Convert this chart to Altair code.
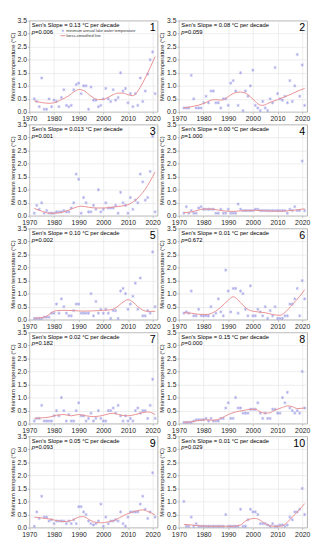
import altair as alt
import pandas as pd

YEARS = list(range(1972, 2022))

P1 = [0.5, 0.4, 0.2, 1.3, 0.1, 0.1, 0.5, 0.2, 0.45, 0.4, 0.2, 0.55, 0.85, 0.25, 0.2, 0.25, 0.85, 1.05, 1.1, 0.7,
      1.0, 1.0, 0.1, 0.95, 0.45, 0.45, 0.2, 0.25, 0.5, 0.9, 0.5, 0.4, 0.85, 0.45, 0.55, 1.5, 0.8, 0.9, 0.35, 0.7,
      0.2, 0.7, 0.25, 1.3, 0.4, 0.8, 1.45, 2.0, 2.3, 0.7]
P2 = [0.15, 0.15, 0.15, 1.4, 0.5, 0.15, 0.15, 0.15, 0.35, 0.6, 0.35, 0.8, 0.8, 0.35, 0.35, 0.15, 0.5, 0.5, 0.25, 1.1,
      1.2, 0.8, 0.25, 1.5, 0.05, 0.8, 0.6, 1.0, 1.6, 0.25, 0.15, 0.05, 0.4, 0.15, 0.05, 0.5, 0.35, 1.7, 0.7, 0.5,
      0.45, 0.6, 0.35, 1.2, 0.4, 1.0, 2.2, 0.6, 1.8, 0.25]
P3 = [0.1, 0.4, 0.25, 0.5, 0.1, 0.2, 0.1, 0.1, 0.1, 0.15, 0.15, 0.15, 0.2, 0.15, 0.15, 0.3, 0.5, 1.6, 1.4, 0.1,
      0.7, 0.5, 0.15, 0.15, 0.4, 0.25, 1.0, 0.15, 0.25, 0.5, 0.3, 0.3, 0.3, 0.4, 0.1, 0.9, 0.5, 0.4, 0.1, 0.7,
      0.25, 0.6, 0.5, 1.6, 1.3, 0.6, 0.7, 1.7, 3.05, 0.15]
P4 = [0.1, 0.35, 0.1, 0.2, 0.1, 0.1, 0.3, 0.35, 0.25, 0.25, 0.25, 0.25, 0.25, 0.1, 0.1, 0.25, 0.1, 0.1, 0.25, 0.1,
      0.1, 0.1, 0.45, 0.25, 0.2, 0.2, 0.2, 0.2, 0.2, 0.25, 0.25, 0.2, 0.2, 0.2, 0.2, 0.2, 0.2, 0.2, 0.2, 0.2,
      0.2, 0.2, 0.1, 0.25, 0.2, 0.35, 0.2, 0.2, 2.1, 0.2]
P5 = [0.05, 0.05, 0.05, 0.05, 0.1, 0.1, 0.1, 0.25, 0.25, 0.6, 0.25, 0.8, 0.5, 0.25, 0.15, 0.15, 0.35, 0.6, 0.6, 0.25,
      0.25, 0.25, 0.25, 1.0, 0.15, 0.7, 0.25, 0.4, 0.25, 0.4, 0.25, 0.05, 0.35, 0.35, 0.05, 1.1, 1.2, 1.0, 0.4, 0.6,
      0.9, 1.4, 0.4, 1.6, 0.15, 0.15, 0.35, 0.25, 2.6, 0.5]
P6 = [0.25, 0.3, 0.25, 1.1, 0.15, 0.15, 0.4, 0.15, 0.15, 0.15, 0.15, 0.5, 0.15, 0.25, 0.8, 0.3, 0.15, 1.9, 1.1, 0.3,
      1.2, 1.2, 0.25, 1.1, 1.0, 0.4, 0.15, 1.3, 0.15, 0.15, 0.4, 0.3, 0.15, 0.5, 0.05, 0.35, 0.15, 0.5, 0.05, 0.05,
      0.05, 0.15, 0.15, 0.6, 0.6, 0.8, 1.2, 0.15, 1.5, 0.8]
P7 = [0.1, 0.2, 0.2, 0.7, 0.1, 0.1, 0.1, 0.1, 0.3, 0.5, 0.3, 1.0, 0.5, 0.1, 0.35, 0.1, 0.1, 0.5, 0.8, 0.3,
      0.3, 0.1, 0.2, 0.4, 0.1, 0.2, 0.5, 0.2, 0.1, 0.1, 0.5, 0.5, 0.6, 0.4, 0.7, 0.3, 0.1, 0.3, 0.1, 0.2,
      0.1, 0.5, 0.6, 0.4, 0.5, 0.5, 0.2, 0.7, 1.7, 0.2]
P8 = [0.05, 0.05, 0.05, 0.05, 0.1, 0.15, 0.15, 0.15, 0.15, 0.2, 0.1, 0.2, 0.1, 0.1, 0.1, 0.2, 0.2, 0.6, 0.8, 0.2,
      0.2, 1.0, 0.6, 0.6, 0.4, 0.4, 0.4, 0.55, 0.55, 0.55, 0.8, 0.4, 0.2, 0.4, 0.2, 0.2, 0.55, 0.55, 0.4, 0.4,
      1.0, 0.8, 1.2, 0.6, 0.5, 0.4, 0.5, 0.4, 2.0, 0.6]
P9 = [0.05, 0.6, 0.35, 1.2, 0.4, 0.4, 0.25, 0.3, 0.15, 0.25, 0.25, 0.25, 0.25, 0.15, 0.25, 0.15, 0.3, 0.15, 0.8, 0.8,
      0.6, 0.5, 0.25, 0.15, 0.1, 0.15, 0.25, 0.9, 0.05, 0.4, 0.15, 0.25, 0.25, 0.3, 0.25, 0.6, 0.15, 0.05, 0.4, 0.6,
      0.6, 0.6, 0.6, 0.9, 1.2, 0.7, 0.35, 0.6, 2.1, 0.4]
P10 = [1.0, 0.05, 0.05, 0.4, 0.05, 0.15, 0.05, 0.05, 0.05, 0.05, 0.05, 0.05, 0.05, 0.05, 0.05, 0.05, 0.05, 0.5, 0.05, 0.05,
       0.05, 0.05, 0.05, 0.7, 0.05, 0.05, 0.3, 0.7, 0.6, 0.6, 0.5, 0.15, 0.15, 0.15, 0.1, 0.05, 0.15, 0.05, 0.05, 0.1,
       0.1, 0.05, 0.1, 0.4, 0.3, 0.6, 0.6, 0.7, 1.5, 0.5]
PANEL_VALUES = [P1, P2, P3, P4, P5, P6, P7, P8, P9, P10]

# loess-smoothed lines (knots)
LINE_YEARS = [
    [1972, 1975, 1978, 1980, 1983, 1986, 1988, 1990, 1992, 1994, 1996, 1998, 2000, 2002, 2004, 2006, 2008, 2010, 2012, 2013, 2015, 2017, 2019, 2021],
    [1972, 1975, 1978, 1981, 1983, 1985, 1987, 1989, 1991, 1993, 1995, 1997, 1999, 2001, 2003, 2004, 2006, 2008, 2010, 2013, 2016, 2019, 2021],
    [1972, 1975, 1978, 1980, 1983, 1986, 1989, 1991, 1994, 1997, 2000, 2003, 2006, 2009, 2011, 2013, 2015, 2017, 2019, 2021],
    [1972, 1975, 1978, 1980, 1983, 1986, 1989, 1992, 1995, 1998, 2001, 2004, 2008, 2012, 2015, 2018, 2021],
    [1972, 1975, 1977, 1979, 1981, 1984, 1988, 1992, 1996, 2000, 2003, 2005, 2007, 2009, 2010, 2012, 2014, 2016, 2018, 2021],
    [1972, 1975, 1978, 1981, 1984, 1987, 1990, 1992, 1994, 1996, 1999, 2002, 2005, 2008, 2011, 2013, 2016, 2019, 2021],
    [1972, 1975, 1978, 1981, 1984, 1987, 1990, 1993, 1996, 1999, 2002, 2004, 2007, 2010, 2013, 2016, 2018, 2021],
    [1972, 1975, 1978, 1981, 1984, 1987, 1990, 1993, 1996, 1999, 2001, 2003, 2005, 2007, 2009, 2012, 2014, 2016, 2018, 2021],
    [1972, 1975, 1978, 1981, 1984, 1987, 1990, 1992, 1994, 1996, 1999, 2002, 2005, 2008, 2011, 2014, 2016, 2018, 2021],
    [1972, 1975, 1978, 1982, 1987, 1992, 1995, 1997, 1999, 2001, 2003, 2005, 2007, 2009, 2011, 2013, 2015, 2017, 2019, 2021],
]
LINE_VALUES = [
    [0.42, 0.36, 0.33, 0.35, 0.47, 0.62, 0.76, 0.86, 0.82, 0.68, 0.54, 0.47, 0.48, 0.56, 0.66, 0.72, 0.72, 0.66, 0.62, 0.68, 0.95, 1.3, 1.7, 2.12],
    [0.15, 0.2, 0.26, 0.36, 0.45, 0.47, 0.45, 0.52, 0.65, 0.74, 0.76, 0.72, 0.58, 0.4, 0.26, 0.25, 0.32, 0.4, 0.47, 0.58, 0.7, 0.83, 0.9],
    [0.28, 0.18, 0.1, 0.1, 0.13, 0.22, 0.33, 0.37, 0.33, 0.3, 0.3, 0.32, 0.36, 0.4, 0.47, 0.6, 0.78, 1.02, 1.33, 1.68],
    [0.12, 0.15, 0.22, 0.26, 0.26, 0.22, 0.18, 0.17, 0.19, 0.2, 0.21, 0.2, 0.18, 0.18, 0.2, 0.23, 0.27],
    [0.06, 0.08, 0.13, 0.27, 0.35, 0.36, 0.35, 0.33, 0.34, 0.36, 0.38, 0.45, 0.6, 0.74, 0.77, 0.68, 0.5, 0.37, 0.32, 0.32],
    [0.27, 0.25, 0.21, 0.2, 0.28, 0.48, 0.75, 0.88, 0.76, 0.55, 0.35, 0.3, 0.27, 0.2, 0.17, 0.28, 0.58, 0.9, 1.15],
    [0.2, 0.22, 0.25, 0.32, 0.35, 0.3, 0.35, 0.3, 0.27, 0.3, 0.37, 0.4, 0.33, 0.3, 0.35, 0.42, 0.45, 0.35],
    [0.05, 0.07, 0.12, 0.15, 0.13, 0.2, 0.35, 0.45, 0.5, 0.55, 0.55, 0.45, 0.4, 0.42, 0.52, 0.62, 0.68, 0.65, 0.58, 0.6],
    [0.4, 0.37, 0.33, 0.27, 0.23, 0.27, 0.4, 0.42, 0.32, 0.22, 0.18, 0.22, 0.3, 0.45, 0.57, 0.65, 0.68, 0.62, 0.48],
    [0.12, 0.1, 0.07, 0.05, 0.05, 0.05, 0.1, 0.25, 0.33, 0.35, 0.28, 0.15, 0.07, 0.05, 0.05, 0.12, 0.3, 0.5, 0.7, 0.92],
]

SLOPES = ["0.13", "0.08", "0.013", "0.00", "0.10", "0.01", "0.02", "0.15", "0.05", "0.01"]
PVALUES = ["0.006", "0.059", "0.001", "1.000", "0.002", "0.672", "0.182", "0.000", "0.093", "0.029"]
X_TICKS = [1970, 1980, 1990, 2000, 2010, 2020]
Y_TICKS = [0.0, 0.5, 1.0, 1.5, 2.0, 2.5, 3.0, 3.5]
LEGEND_LABELS = ["minimum annual lake water temperature", "loess-smoothed line"]
Y_TITLE = "Minimum temperature (°C)"

W, H = 132, 94
FONT = "Liberation Sans"
PT_COLOR = "#8080e0"
LINE_COLOR = "#e89090"
STAR = "M0,-1L0,1M-0.87,-0.5L0.87,0.5M-0.87,0.5L0.87,-0.5"


def panel(i):
    pts = pd.DataFrame({"year": YEARS, "t": PANEL_VALUES[i]})
    ln = pd.DataFrame({"year": LINE_YEARS[i], "t": LINE_VALUES[i]})
    x = alt.X("year:Q", scale=alt.Scale(domain=[1970, 2022], nice=False, zero=False),
              axis=alt.Axis(values=X_TICKS, format="d", title=None, labelFlush=False))
    y = alt.Y("t:Q", scale=alt.Scale(domain=[0, 3.5], nice=False),
              axis=alt.Axis(values=Y_TICKS, format=".1f", title=Y_TITLE))
    points = alt.Chart(pts).mark_point(shape=STAR, filled=False, size=11, strokeWidth=0.7,
                                       color=PT_COLOR).encode(x=x, y=y)
    line = alt.Chart(ln).mark_line(color=LINE_COLOR, strokeWidth=1,
                                   interpolate="monotone").encode(x=x, y=y)
    ann = pd.DataFrame({
        "slope": [f"Sen's Slope = {SLOPES[i]} °C per decade"],
        "pp": ["p"],
        "pv": [f"={PVALUES[i]}"],
        "num": [str(i + 1)],
    })
    base = alt.Chart(ann)
    t_slope = base.mark_text(align="left", baseline="middle", fontSize=6, font=FONT, color="black").encode(
        text="slope:N", x=alt.value(2.5), y=alt.value(5))
    t_p = base.mark_text(align="left", baseline="middle", fontSize=6, font=FONT, fontStyle="italic",
                         color="black").encode(text="pp:N", x=alt.value(2.5), y=alt.value(11.5))
    t_pv = base.mark_text(align="left", baseline="middle", fontSize=6, font=FONT, color="black").encode(
        text="pv:N", x=alt.value(5.8), y=alt.value(11.5))
    t_num = base.mark_text(align="right", baseline="middle", fontSize=11, font=FONT, color="black").encode(
        text="num:N", x=alt.value(W - 2), y=alt.value(8))
    layers = [points, line, t_slope, t_p, t_pv, t_num]
    if i == 0:
        leg = pd.DataFrame({"label": LEGEND_LABELS, "row": [0, 1]})
        lb = alt.Chart(leg)
        row0 = lb.transform_filter("datum.row == 0")
        row1 = lb.transform_filter("datum.row == 1")
        leg_t0 = row0.mark_text(align="left", baseline="middle", fontSize=4, font=FONT, color="#333").encode(
            text="label:N", x=alt.value(38), y=alt.value(10.5))
        leg_t1 = row1.mark_text(align="left", baseline="middle", fontSize=4, font=FONT, color="#333").encode(
            text="label:N", x=alt.value(38), y=alt.value(15.5))
        leg_pt = row0.mark_point(shape=STAR, filled=False, size=8, strokeWidth=0.6, color=PT_COLOR).encode(
            x=alt.value(34.5), y=alt.value(10.5))
        leg_ln = row1.mark_rule(color=LINE_COLOR, strokeWidth=1).encode(
            x=alt.value(32), x2=alt.value(37), y=alt.value(15.5))
        layers += [leg_pt, leg_ln, leg_t0, leg_t1]
    return alt.layer(*layers).properties(width=W, height=H)


chart = alt.concat(*[panel(i) for i in range(10)], columns=2,
                   spacing={"row": 13, "column": 22}, bounds="flush").properties(
    padding=0
).configure_axis(
    labelFont=FONT, labelFontSize=7, labelColor="#222", labelPadding=1,
    titleFont=FONT, titleFontSize=6, titleFontWeight="normal", titleColor="#222", titlePadding=2,
    tickSize=2, tickColor="#999", tickWidth=0.6, domain=False,
    gridColor="#e2e2e2", gridWidth=0.6,
).configure_view(stroke="#9a9a9a", strokeWidth=0.8)

chart.save("out.html", embed_options={"renderer": "svg", "actions": False})
